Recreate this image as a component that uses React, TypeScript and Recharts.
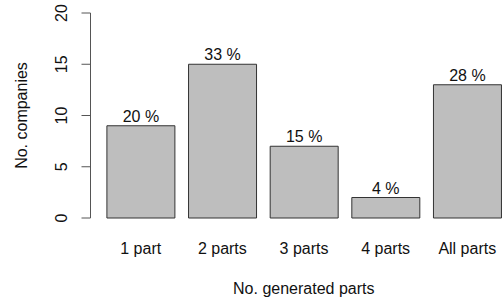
import { BarChart, Bar, XAxis, YAxis, LabelList, Label } from "recharts"

// values
const categories = ["1 part", "2 parts", "3 parts", "4 parts", "All parts"]
const companies = [9, 15, 7, 2, 13]
const shares = ["20 %", "33 %", "15 %", "4 %", "28 %"]
const yTicks = [0, 5, 10, 15, 20]

const data = categories.map((name, i) => ({
	name,
	count: companies[i],
	label: shares[i],
}))

const FONT = "'Liberation Sans', Arial, Helvetica, sans-serif"

function YTick({ x, y, payload }: any) {
	const tx = x - 15
	return (
		<text
			x={tx}
			y={y}
			transform={`rotate(-90, ${tx}, ${y})`}
			textAnchor="middle"
			fontFamily={FONT}
			fontSize={16}
			fill="#111"
		>
			{payload.value}
		</text>
	)
}

function XTick({ x, y, payload }: any) {
	return (
		<text x={x} y={y + 36} textAnchor="middle" fontFamily={FONT} fontSize={16} fill="#111">
			{payload.value}
		</text>
	)
}

function YTitle({ viewBox }: any) {
	const tx = viewBox.x + 26
	const ty = viewBox.y + viewBox.height / 2
	return (
		<text
			x={tx}
			y={ty}
			transform={`rotate(-90, ${tx}, ${ty})`}
			textAnchor="middle"
			fontFamily={FONT}
			fontSize={16}
			fill="#111"
		>
			No. companies
		</text>
	)
}

export default function App() {
	return (
		<div style={{ position: "absolute", left: 0, top: 0, width: 503, height: 300, overflow: "hidden", background: "#fff" }}>
			<BarChart width={520} height={300} data={data} margin={{ top: 13, right: 3, bottom: 0, left: 0.5 }}>
				<XAxis
					dataKey="name"
					height={82}
					axisLine={false}
					tickLine={false}
					tickSize={0}
					tickMargin={0}
					padding={{ left: 9.4, right: 8.9 }}
					tick={<XTick />}
					interval={0}
				>
					<Label
						value="No. generated parts"
						position="insideBottom"
						offset={6}
						fontFamily={FONT}
						fontSize={16}
						fill="#111"
					/>
				</XAxis>
				<YAxis
					width={90}
					domain={[0, 20]}
					ticks={yTicks}
					interval={0}
					tickSize={9}
					tickMargin={0}
					stroke="#555"
					tick={<YTick />}
					label={<YTitle />}
				/>
				<Bar dataKey="count" fill="#BEBEBE" stroke="#333" strokeWidth={1} barSize={68} isAnimationActive={false}>
					<LabelList dataKey="label" position="top" offset={4} fontFamily={FONT} fontSize={16} fill="#111" />
				</Bar>
			</BarChart>
		</div>
	)
}
